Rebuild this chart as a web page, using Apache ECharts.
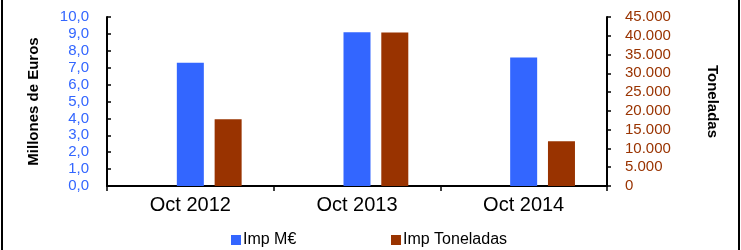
<!DOCTYPE html>
<html>
<head>
<meta charset="utf-8">
<script src="https://cdn.jsdelivr.net/npm/echarts@6/dist/echarts.min.js"></script>
<style>html,body{margin:0;padding:0;background:#fff}#c{width:741px;height:250px}</style>
</head>
<body>
<div id="c"></div>
<script>
const categories = ['Oct 2012', 'Oct 2013', 'Oct 2014'];
const impMEuros = [7.3, 9.1, 7.6];
const impToneladas = [17800, 40900, 11900];
const seriesNames = ['Imp M€', 'Imp Toneladas'];
const leftAxisTitle = 'Millones de Euros';
const rightAxisTitle = 'Toneladas';

const BLUE = '#3366FF', BROWN = '#993300';
const FONT = 'Liberation Sans, Arial, sans-serif';

const chart = echarts.init(document.getElementById('c'), null, {renderer: 'canvas'});
chart.setOption({
  animation: false,
  backgroundColor: '#fff',
  grid: {left: 107, right: 134, top: 17, bottom: 64},
  graphic: [
    {type: 'rect', shape: {x: 1, y: 0, width: 2, height: 250}, style: {fill: '#000'}},
    {type: 'rect', shape: {x: 738, y: 0, width: 2, height: 250}, style: {fill: '#000'}}
  ],
  legend: [
    {data: [seriesNames[0]], left: 226, top: 227, itemWidth: 10, itemHeight: 10, itemGap: 5, icon: 'rect',
     textStyle: {fontFamily: FONT, fontSize: 16, color: '#000', padding: [0, 0, 0, -3]}},
    {data: [seriesNames[1]], left: 386, top: 227, itemWidth: 10, itemHeight: 10, itemGap: 5, icon: 'rect',
     textStyle: {fontFamily: FONT, fontSize: 16, color: '#000', padding: [0, 0, 0, -3]}}
  ],
  xAxis: {
    type: 'category', data: categories,
    axisLine: {lineStyle: {color: '#000', width: 2}},
    axisTick: {show: true, length: 5, lineStyle: {color: '#000', width: 1.5}},
    axisLabel: {fontFamily: FONT, fontSize: 20, color: '#000', margin: 9}
  },
  yAxis: [
    {type: 'value', min: 0, max: 10, interval: 1, position: 'left',
     name: leftAxisTitle, nameLocation: 'middle', nameRotate: 90, nameGap: 66,
     nameTextStyle: {fontFamily: FONT, fontSize: 15, fontWeight: 'bold', color: '#000'},
     axisLine: {show: true, lineStyle: {color: '#000', width: 2}},
     axisTick: {show: true, inside: true, length: 4, lineStyle: {color: '#000', width: 1.5}},
     splitLine: {show: false},
     axisLabel: {fontFamily: FONT, fontSize: 15, color: BLUE, margin: 18,
       formatter: v => v.toFixed(1).replace('.', ',')}},
    {type: 'value', min: 0, max: 45000, interval: 5000, position: 'right',
     name: rightAxisTitle, nameLocation: 'middle', nameRotate: -90, nameGap: 98,
     nameTextStyle: {fontFamily: FONT, fontSize: 15, fontWeight: 'bold', color: '#000'},
     axisLine: {show: true, lineStyle: {color: '#000', width: 2}},
     axisTick: {show: true, length: 4, lineStyle: {color: '#000', width: 1.5}},
     splitLine: {show: false},
     axisLabel: {fontFamily: FONT, fontSize: 15, color: BROWN, margin: 18,
       formatter: v => String(v).replace(/\B(?=(\d{3})+(?!\d))/g, '.')}}
  ],
  series: [
    {name: '_spacer', type: 'bar', yAxisIndex: 0, data: ['-', '-', '-'], barWidth: 27, barGap: '40%', silent: true},
    {name: seriesNames[0], type: 'bar', yAxisIndex: 0, data: impMEuros, barWidth: 27, barGap: '40%', itemStyle: {color: BLUE}},
    {name: seriesNames[1], type: 'bar', yAxisIndex: 1, data: impToneladas, barWidth: 27, barGap: '40%', itemStyle: {color: BROWN}}
  ]
});
</script>
</body>
</html>
